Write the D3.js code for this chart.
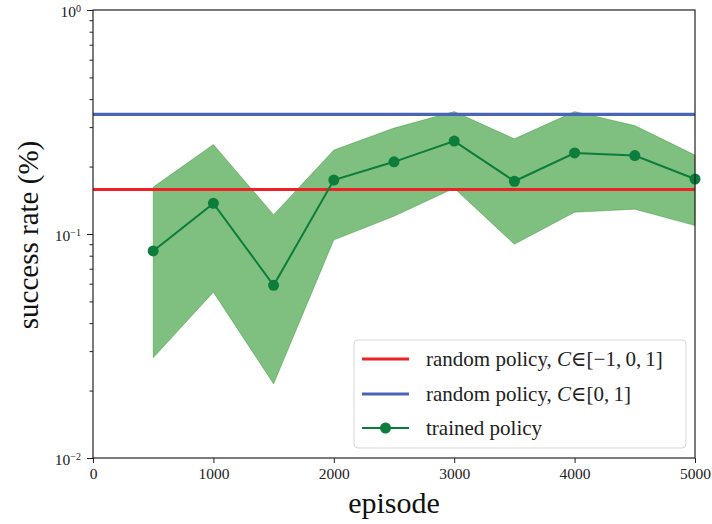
<!DOCTYPE html>
<html><head><meta charset="utf-8">
<script src="https://cdn.jsdelivr.net/npm/d3@7"></script>
<style>body{margin:0;background:#fff}svg{display:block}svg text{font-family:"Liberation Serif","Times New Roman","DejaVu Serif",serif !important}</style>
</head><body>
<svg id="chart" width="712" height="524"></svg>
<script>
const episodes = [500,1000,1500,2000,2500,3000,3500,4000,4500,5000];
const trainedMean = [0.084,0.137,0.059,0.174,0.210,0.260,0.172,0.230,0.224,0.176];
const trainedUpper = [0.162,0.251,0.122,0.237,0.297,0.352,0.266,0.352,0.305,0.225];
const trainedLower = [0.028,0.055,0.0214,0.094,0.120,0.160,0.090,0.125,0.129,0.109];
const randomFull = 0.158;   // C in [-1,0,1]
const randomPos = 0.342;    // C in [0,1]
const xTicks = [0,1000,2000,3000,4000,5000];
const yMajor = [-2,-1,0];
const legendLabels = ["random policy, ", "random policy, ", "trained policy"];

const svg = d3.select("#chart");
const m = {l:93, r:695, t:10, b:458};
const x = d3.scaleLinear().domain([0,5000]).range([m.l,m.r]);
const y = d3.scaleLog().domain([0.01,1]).range([m.b,m.t]);

const cRed="#ee2224", cBlue="#4a65b5", cGreen="#0c7d3b";

const g = svg.append("g");
const area = d3.area().x((d,i)=>x(episodes[i])).y0((d,i)=>y(trainedLower[i])).y1((d,i)=>y(trainedUpper[i]));
g.append("path").datum(episodes).attr("d",area).attr("fill","#008000").attr("fill-opacity",0.5)
  .attr("stroke","#008000").attr("stroke-opacity",0.3).attr("stroke-width",1);
g.append("line").attr("x1",x(0)).attr("x2",x(5000)).attr("y1",y(randomFull)).attr("y2",y(randomFull))
  .attr("stroke",cRed).attr("stroke-width",3.2);
g.append("line").attr("x1",x(0)).attr("x2",x(5000)).attr("y1",y(randomPos)).attr("y2",y(randomPos))
  .attr("stroke",cBlue).attr("stroke-width",3.2);
const line = d3.line().x((d,i)=>x(episodes[i])).y((d,i)=>y(trainedMean[i]));
g.append("path").datum(episodes).attr("d",line).attr("fill","none").attr("stroke",cGreen).attr("stroke-width",2);
g.selectAll("circle.pt").data(episodes).enter().append("circle")
  .attr("cx",(d)=>x(d)).attr("cy",(d,i)=>y(trainedMean[i])).attr("r",5.5).attr("fill",cGreen);

const xAxis = d3.axisBottom(x).tickValues(xTicks).tickSize(5).tickPadding(4).tickFormat(d3.format("d"));
const xg = svg.append("g").attr("transform",`translate(0,${m.b})`).call(xAxis);
xg.select(".domain").remove();
xg.selectAll("line").attr("stroke","#222");
xg.selectAll("text").attr("font-size",15.5).attr("fill","#222").attr("dy","0.8em");

const minors=[];
for (const k of [-2,-1]) for (let j=2;j<=9;j++) minors.push(j*Math.pow(10,k));
const ymg = svg.append("g").attr("transform",`translate(${m.l},0)`).call(d3.axisLeft(y).tickValues(minors).tickSize(3.5).tickFormat(""));
ymg.select(".domain").remove(); ymg.selectAll("line").attr("stroke","#222");
const yg = svg.append("g").attr("transform",`translate(${m.l},0)`).call(d3.axisLeft(y).tickValues(yMajor.map(e=>Math.pow(10,e))).tickSize(6).tickFormat(""));
yg.select(".domain").remove(); yg.selectAll("line").attr("stroke","#222");
yMajor.forEach(e=>{
  const t = svg.append("text").attr("x",m.l-12).attr("y",y(Math.pow(10,e))+7).attr("text-anchor","end")
    .attr("font-size",15.5).attr("fill","#222");
  t.append("tspan").text("10");
  t.append("tspan").attr("dy",-5.5).attr("font-size",10).text(e===0?"0":"\u2212"+String(-e));
});

svg.append("rect").attr("x",m.l).attr("y",m.t).attr("width",m.r-m.l).attr("height",m.b-m.t)
  .attr("fill","none").attr("stroke","#222").attr("stroke-width",1.2);

svg.append("text").attr("x",(m.l+m.r)/2).attr("y",513).attr("text-anchor","middle").attr("font-size",30).attr("fill","#111").text("episode");
svg.append("text").attr("transform",`translate(38,235) rotate(-90)`).attr("text-anchor","middle")
  .attr("font-size",29).attr("fill","#111").text("success rate (%)");

const lg = svg.append("g");
lg.append("rect").attr("x",354).attr("y",340).attr("width",332).attr("height",108).attr("rx",4)
  .attr("fill","#fff").attr("fill-opacity",0.85).attr("stroke","#d6d6d6").attr("stroke-width",1);
const rows = [{c:cRed,y:359,math:"[\u22121,\u20090,\u20091]"},{c:cBlue,y:394,math:"[0,\u20091]"},{c:cGreen,y:428,marker:true}];
rows.forEach((r,i)=>{
  lg.append("line").attr("x1",362).attr("x2",409).attr("y1",r.y).attr("y2",r.y).attr("stroke",r.c).attr("stroke-width",r.marker?2:3.2);
  if (r.marker) lg.append("circle").attr("cx",385.5).attr("cy",r.y).attr("r",5.5).attr("fill",r.c);
  const t = lg.append("text").attr("x",426).attr("y",r.y+7).attr("font-size",21).attr("fill","#222");
  t.append("tspan").text(legendLabels[i]);
  if (r.math){
    t.append("tspan").attr("font-style","italic").text("C");
    t.append("tspan").text("\u2208" + r.math);
  }
});
</script>
</body></html>
